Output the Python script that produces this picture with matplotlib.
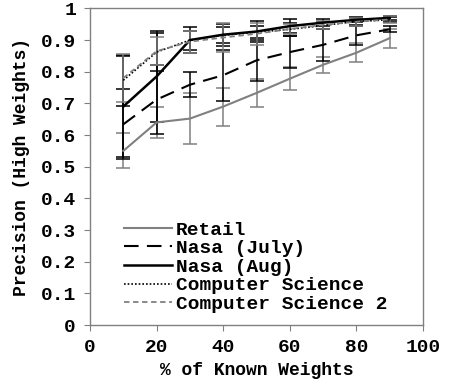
import matplotlib
matplotlib.use("Agg")
import matplotlib.pyplot as plt
from matplotlib.lines import Line2D

x = [10, 20, 30, 40, 50, 60, 70, 80, 90]

retail = [0.55, 0.64, 0.652, 0.69, 0.733, 0.778, 0.822, 0.86, 0.906]
retail_err = [0.055, 0.05, 0.08, 0.06, 0.045, 0.037, 0.026, 0.03, 0.03]

nasa_july = [0.634, 0.712, 0.759, 0.789, 0.836, 0.862, 0.885, 0.915, 0.934]
nasa_july_err = [0.11, 0.11, 0.04, 0.08, 0.065, 0.05, 0.05, 0.03, 0.01]

nasa_aug = [0.69, 0.785, 0.9, 0.917, 0.927, 0.944, 0.955, 0.964, 0.97]
nasa_aug_err = [0.16, 0.145, 0.04, 0.035, 0.032, 0.022, 0.012, 0.008, 0.006]

cs = [0.773, 0.862, 0.9, 0.915, 0.925, 0.934, 0.946, 0.959, 0.964]
cs_err = [0.08, 0.06, 0.03, 0.025, 0.02, 0.02, 0.01, 0.01, 0.008]

cs2 = [0.78, 0.865, 0.895, 0.908, 0.92, 0.935, 0.948, 0.958, 0.965]
cs2_err = [0.075, 0.045, 0.035, 0.045, 0.035, 0.015, 0.012, 0.012, 0.01]

labels = ["Retail", "Nasa (July)", "Nasa (Aug)", "Computer Science", "Computer Science 2"]

plt.rcParams['font.family'] = ['Liberation Mono', 'DejaVu Sans']
plt.rcParams['font.weight'] = 'bold'

fig = plt.figure(figsize=(4.5, 3.82), dpi=100)
ax = fig.add_axes([0.2, 0.149, 0.74, 0.829])

gray = '#808080'
styles = [
    dict(color=gray, linestyle='-', lw=1.5),
    dict(color='black', linestyle=(0, (7, 4)), lw=1.5),
    dict(color='black', linestyle='-', lw=1.8),
    dict(color='black', linestyle=(0, (1, 1.2)), lw=1.2),
    dict(color=gray, linestyle=(0, (3, 2)), lw=1.3),
]
series = [retail, nasa_july, nasa_aug, cs, cs2]
errs = [retail_err, nasa_july_err, nasa_aug_err, cs_err, cs2_err]

handles = []
for ys, es, st, lab in zip(series, errs, styles, labels):
    ax.errorbar(x, ys, yerr=es, capsize=5, elinewidth=1.1,
                capthick=1.1, ecolor=st['color'], **st)
    handles.append(Line2D([], [], label=lab, **st))

ax.set_xlim(0, 100)
ax.set_ylim(0, 1)
ax.set_xticks([0, 20, 40, 60, 80, 100])
ax.set_yticks([0, 0.1, 0.2, 0.3, 0.4, 0.5, 0.6, 0.7, 0.8, 0.9, 1])
ax.set_yticklabels(['0', '0.1', '0.2', '0.3', '0.4', '0.5', '0.6', '0.7', '0.8', '0.9', '1'])
ax.tick_params(axis='both', labelsize=14, length=4, color='#808080', pad=6)
for sp in ax.spines.values():
    sp.set_color('#808080')
    sp.set_linewidth(1)

ax.set_xlabel('% of Known Weights', fontsize=13, fontweight='bold', labelpad=4)
ax.set_ylabel('Precision (High Weights)', fontsize=13, fontweight='bold', labelpad=8)

leg = ax.legend(handles=handles, loc='lower left', bbox_to_anchor=(0.06, -0.005),
                frameon=False, fontsize=14, handlelength=2.5, handletextpad=0.2,
                labelspacing=0.05, borderpad=0.2)

fig.savefig('out.png', dpi=100)
